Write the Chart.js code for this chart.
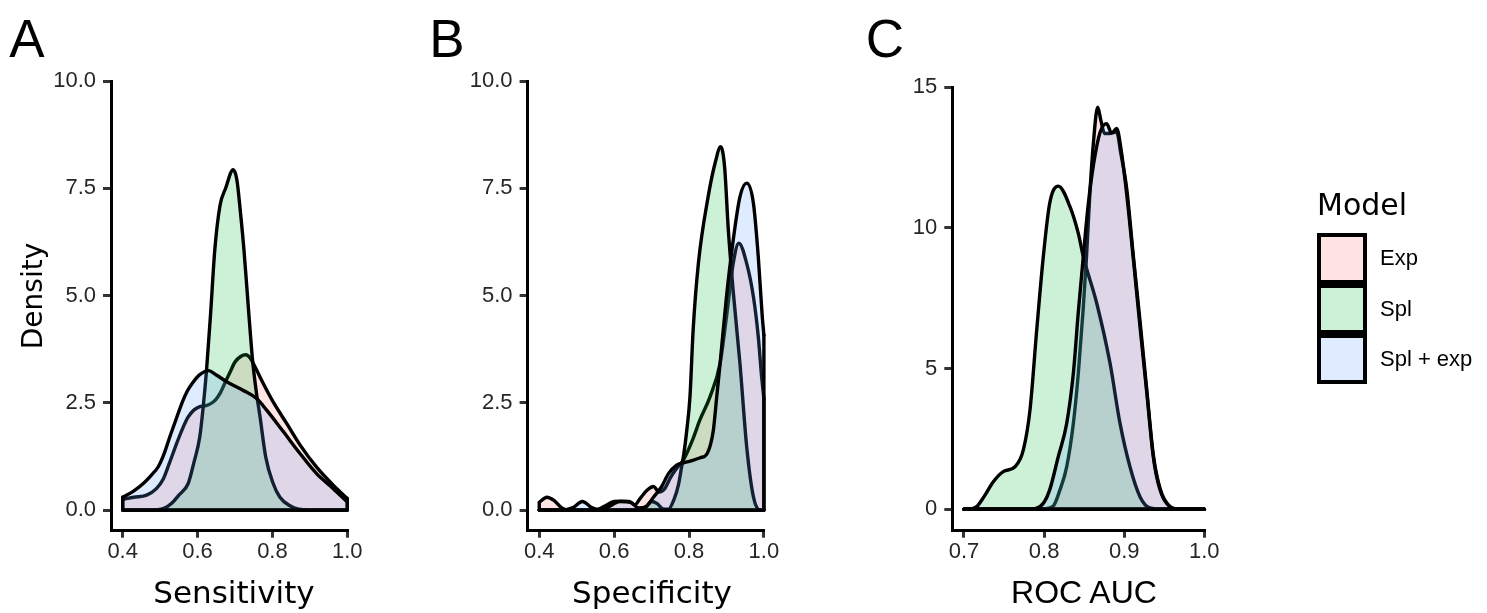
<!DOCTYPE html>
<html>
<head>
<meta charset="utf-8">
<script src="https://cdn.jsdelivr.net/npm/chart.js@4.4.1/dist/chart.umd.min.js"></script>
<style>
  html, body { margin: 0; padding: 0; background: #fff; }
  #wrap { position: relative; width: 1487px; height: 613px; overflow: hidden; background: #fff; }
  #wrap canvas { position: absolute; left: 0; top: 0; }
  .txt { position: absolute; white-space: nowrap; line-height: 1; color: #000; }
  .key { position: absolute; box-sizing: border-box; border: 4px solid #000; }
</style>
</head>
<body>
<div id="wrap">
  <canvas id="pA" width="1487" height="613"></canvas>
  <canvas id="pB" width="1487" height="613"></canvas>
  <canvas id="pC" width="1487" height="613"></canvas>
</div>
<script>
// Model groups and their fills (ggplot hue palette at alpha 0.2)
const models = ['Exp', 'Spl', 'Spl + exp'];
const modelFills = ['rgba(248,118,109,0.2)', 'rgba(0,186,56,0.2)', 'rgba(97,156,255,0.2)'];

// Tick values
const propTicks = [0.4, 0.6, 0.8, 1.0];
const aucTicks = [0.7, 0.8, 0.9, 1.0];
const densityTicks10 = [0, 2.5, 5, 7.5, 10];
const densityTicks15 = [0, 5, 10, 15];

// Density estimates, [x, density]
// A: sensitivity
const sensExp = [[0.40,0.25],[0.43,0.30],[0.464,0.35],[0.49,0.50],[0.508,0.72],[0.525,1.10],[0.544,1.55],[0.56,1.90],[0.575,2.17],[0.59,2.33],[0.606,2.41],[0.62,2.43],[0.633,2.47],[0.648,2.57],[0.66,2.72],[0.675,3.00],[0.687,3.22],[0.70,3.45],[0.715,3.58],[0.729,3.62],[0.741,3.54],[0.7534,3.34],[0.7755,2.95],[0.802,2.52],[0.838,2.02],[0.8736,1.52],[0.918,1.00],[0.9625,0.58],[1.0,0.27]];
const sensSpl = [[0.40,0],[0.45,0],[0.49,0.01],[0.51,0.04],[0.531,0.16],[0.55,0.35],[0.575,0.62],[0.59,1.10],[0.606,1.71],[0.615,2.40],[0.624,3.26],[0.635,4.60],[0.646,6.06],[0.66,7.10],[0.675,7.50],[0.695,7.93],[0.705,7.70],[0.715,6.90],[0.724,6.06],[0.735,4.80],[0.747,3.49],[0.757,2.75],[0.767,2.17],[0.782,1.24],[0.802,0.62],[0.82,0.30],[0.847,0.10],[0.87,0.02],[0.90,0],[1.0,0]];
const sensSplExp = [[0.40,0.30],[0.43,0.45],[0.455,0.62],[0.475,0.80],[0.495,1.01],[0.51,1.30],[0.526,1.71],[0.542,2.10],[0.558,2.49],[0.573,2.78],[0.589,2.99],[0.605,3.15],[0.629,3.25],[0.65,3.15],[0.678,2.99],[0.72,2.80],[0.758,2.60],[0.7846,2.33],[0.829,1.83],[0.8736,1.32],[0.918,0.85],[0.9625,0.50],[1.0,0.19]];

// B: specificity
const specExp = [[0.40,0.18],[0.42,0.30],[0.44,0.22],[0.46,0.05],[0.48,0],[0.50,0],[0.53,0],[0.56,0.03],[0.58,0.12],[0.60,0.20],[0.62,0.21],[0.64,0.20],[0.655,0.12],[0.67,0.28],[0.69,0.48],[0.705,0.55],[0.72,0.42],[0.735,0.50],[0.75,0.75],[0.765,0.95],[0.785,1.17],[0.81,1.65],[0.829,2.10],[0.856,2.64],[0.883,3.42],[0.90,4.50],[0.918,5.75],[0.933,6.22],[0.954,5.75],[0.972,4.97],[0.985,4.04],[0.994,3.10],[1.0,2.60]];
const specSpl = [[0.40,0],[0.60,0],[0.66,0],[0.685,0.08],[0.70,0.20],[0.715,0.15],[0.73,0.03],[0.745,0.02],[0.76,0.25],[0.772,0.60],[0.78,1.00],[0.786,1.30],[0.794,1.86],[0.8025,2.64],[0.811,4.20],[0.825,5.75],[0.851,7.30],[0.87,8.10],[0.8845,8.47],[0.895,8.00],[0.905,6.53],[0.918,5.10],[0.936,3.42],[0.954,1.48],[0.972,0.31],[0.99,0],[1.0,0]];
const specSplExp = [[0.40,0],[0.46,0],[0.49,0.06],[0.515,0.20],[0.54,0.06],[0.56,0],[0.585,0.08],[0.615,0.20],[0.645,0.18],[0.665,0.05],[0.685,0.08],[0.705,0.30],[0.727,0.55],[0.745,0.85],[0.767,1.05],[0.785,1.10],[0.805,1.15],[0.83,1.22],[0.847,1.30],[0.858,1.55],[0.865,1.86],[0.874,2.64],[0.883,3.42],[0.90,4.97],[0.918,6.29],[0.936,7.30],[0.954,7.62],[0.972,7.15],[0.985,5.90],[0.9957,4.50],[1.0,4.08]];

// C: ROC AUC
const rocExp = [[0.70,0],[0.79,0],[0.80,0.02],[0.8115,0.12],[0.8198,0.69],[0.8282,1.51],[0.8365,3.05],[0.8427,4.83],[0.849,7.20],[0.853,9.00],[0.8573,11.30],[0.8615,13.00],[0.8669,14.28],[0.871,13.80],[0.8755,13.35],[0.882,13.35],[0.8906,13.40],[0.896,12.60],[0.9031,11.40],[0.9114,9.00],[0.9197,6.70],[0.928,4.30],[0.9363,1.95],[0.9447,0.75],[0.9572,0.10],[0.97,0],[1.0,0]];
const rocSpl = [[0.70,0],[0.71,0.02],[0.716,0.10],[0.725,0.45],[0.7366,0.98],[0.749,1.34],[0.7637,1.51],[0.774,2.10],[0.7824,3.53],[0.7908,6.37],[0.799,8.97],[0.807,10.87],[0.8177,11.48],[0.8323,10.75],[0.8427,9.80],[0.849,8.97],[0.8657,7.32],[0.8823,5.19],[0.8948,3.05],[0.9072,1.51],[0.9197,0.45],[0.932,0.05],[0.95,0],[1.0,0]];
const rocSplExp = [[0.70,0],[0.78,0],[0.79,0.03],[0.80,0.25],[0.807,0.69],[0.8177,1.87],[0.8282,3.05],[0.8365,4.83],[0.8427,7.00],[0.849,9.00],[0.855,10.80],[0.862,12.30],[0.87,13.40],[0.878,13.70],[0.8844,13.36],[0.8906,13.53],[0.896,12.80],[0.9031,11.20],[0.9114,8.90],[0.9197,6.50],[0.928,4.20],[0.9363,1.87],[0.9447,0.69],[0.9572,0.09],[0.97,0],[1.0,0]];

// Panel layout: plot-area box in page pixels plus axis ranges
const W = 1487, H = 613;
const panels = [
  { id: 'pA', series: [sensExp, sensSpl, sensSplExp], xMin: 0.3688, xMax: 1.0, yMin: -0.48, yMax: 10,
    xTicks: propTicks, yTicks: densityTicks10, yDigits: 1, area: { left: 111, top: 81, right: 347.3, bottom: 530.7 } },
  { id: 'pB', series: [specExp, specSpl, specSplExp], xMin: 0.3688, xMax: 1.0, yMin: -0.48, yMax: 10,
    xTicks: propTicks, yTicks: densityTicks10, yDigits: 1, area: { left: 527.6, top: 81, right: 763.9, bottom: 530.7 } },
  { id: 'pC', series: [rocExp, rocSpl, rocSplExp], xMin: 0.6854, xMax: 1.0, yMin: -0.76, yMax: 15,
    xTicks: aucTicks, yTicks: densityTicks15, yDigits: 0, area: { left: 952.3, top: 87, right: 1204.3, bottom: 530.7 } }
];

const tickFont = { family: "'Liberation Sans', Arial, sans-serif", size: 22 };
const tickColor = '#262626';
const LINE = 3.4;

function buildDatasets(series) {
  const sets = [];
  series.forEach((pts, i) => {
    const order = (3 - i) * 2;          // later groups are painted over earlier ones
    sets.push({
      label: models[i],
      data: pts.map(([x, y]) => ({ x, y })),
      borderColor: '#000', borderWidth: LINE, backgroundColor: modelFills[i],
      fill: 'origin', cubicInterpolationMode: 'monotone', pointRadius: 0,
      borderJoinStyle: 'round', borderCapStyle: 'round', order, clip: 8
    });
    // closing outline: vertical ends and baseline of the density polygon
    const first = pts[0], last = pts[pts.length - 1];
    sets.push({
      label: models[i] + ' outline',
      data: [{ x: last[0], y: last[1] }, { x: last[0], y: 0 }, { x: first[0], y: 0 }, { x: first[0], y: first[1] }],
      borderColor: '#000', borderWidth: LINE, fill: false, tension: 0, pointRadius: 0,
      borderJoinStyle: 'round', borderCapStyle: 'round', order: order - 1, clip: 8
    });
  });
  return sets;
}

panels.forEach(p => {
  new Chart(document.getElementById(p.id), {
    type: 'line',
    data: { datasets: buildDatasets(p.series) },
    options: {
      responsive: false, animation: false, devicePixelRatio: 1,
      layout: { padding: { left: 0, top: p.area.top, right: W - p.area.right, bottom: 0 } },
      plugins: { legend: { display: false }, tooltip: { enabled: false } },
      scales: {
        x: {
          type: 'linear', min: p.xMin, max: p.xMax,
          afterBuildTicks: s => { s.ticks = p.xTicks.map(v => ({ value: v })); },
          afterFit: s => { s.height = H - p.area.bottom; },
          ticks: { font: tickFont, color: tickColor, padding: 1, maxRotation: 0, autoSkip: false,
                   callback: v => Number(v).toFixed(1) },
          grid: { display: true, drawOnChartArea: false, drawTicks: true, tickLength: 7, tickWidth: 3, tickColor: '#333', lineWidth: 3 },
          border: { display: true, color: '#000', width: 3 }
        },
        y: {
          type: 'linear', min: p.yMin, max: p.yMax,
          afterBuildTicks: s => { s.ticks = p.yTicks.map(v => ({ value: v })); },
          afterFit: s => { s.width = p.area.left; },
          ticks: { font: tickFont, color: tickColor, padding: 7, autoSkip: false,
                   callback: v => Number(v).toFixed(p.yDigits) },
          grid: { display: true, drawOnChartArea: false, drawTicks: true, tickLength: 8, tickWidth: 3, tickColor: '#333', lineWidth: 3 },
          border: { display: true, color: '#000', width: 3 }
        }
      }
    }
  });
});

// Panel tags, axis titles and the legend
const wrap = document.getElementById('wrap');
const SANS = "'Liberation Sans', Arial, sans-serif";
const DEJAVU = "'DejaVu Sans', Verdana, sans-serif";
function addText(str, x, y, size, family, opts = {}) {
  const d = document.createElement('div');
  d.className = 'txt';
  d.textContent = str;
  d.style.fontFamily = family;
  d.style.fontSize = size + 'px';
  d.style.left = x + 'px';
  d.style.top = y + 'px';
  const ax = opts.anchor === 'left' ? '0' : '-50%';
  d.style.transform = `translate(${ax}, -50%)` + (opts.rotate ? ` rotate(${opts.rotate}deg)` : '');
  wrap.appendChild(d);
  return d;
}
const panelTags = ['A', 'B', 'C'];
const tagX = [27, 447, 885];
panelTags.forEach((t, i) => addText(t, tagX[i], 38, 53, SANS));

const xTitles = ['Sensitivity', 'Specificity', 'ROC AUC'];
const xTitleX = [234, 652, 1084];
const xTitleFonts = [DEJAVU, DEJAVU, SANS];
const xTitleSizes = [31, 31, 32];
xTitles.forEach((t, i) => addText(t, xTitleX[i], 592, xTitleSizes[i], xTitleFonts[i]));

// rotated y title
addText('Density', 33, 296, 28, DEJAVU, { rotate: -90 });

addText('Model', 1317, 205, 30, DEJAVU, { anchor: 'left' });
const keyTop = 233.3, keySize = 50.3;
models.forEach((m, i) => {
  const k = document.createElement('div');
  k.className = 'key';
  k.style.left = '1316.7px';
  k.style.top = (keyTop + i * keySize) + 'px';
  k.style.width = '50px';
  k.style.height = keySize + 'px';
  k.style.background = modelFills[i];
  wrap.appendChild(k);
  addText(m, 1380, keyTop + i * keySize + keySize / 2, 22, SANS, { anchor: 'left' });
});
</script>
</body>
</html>
